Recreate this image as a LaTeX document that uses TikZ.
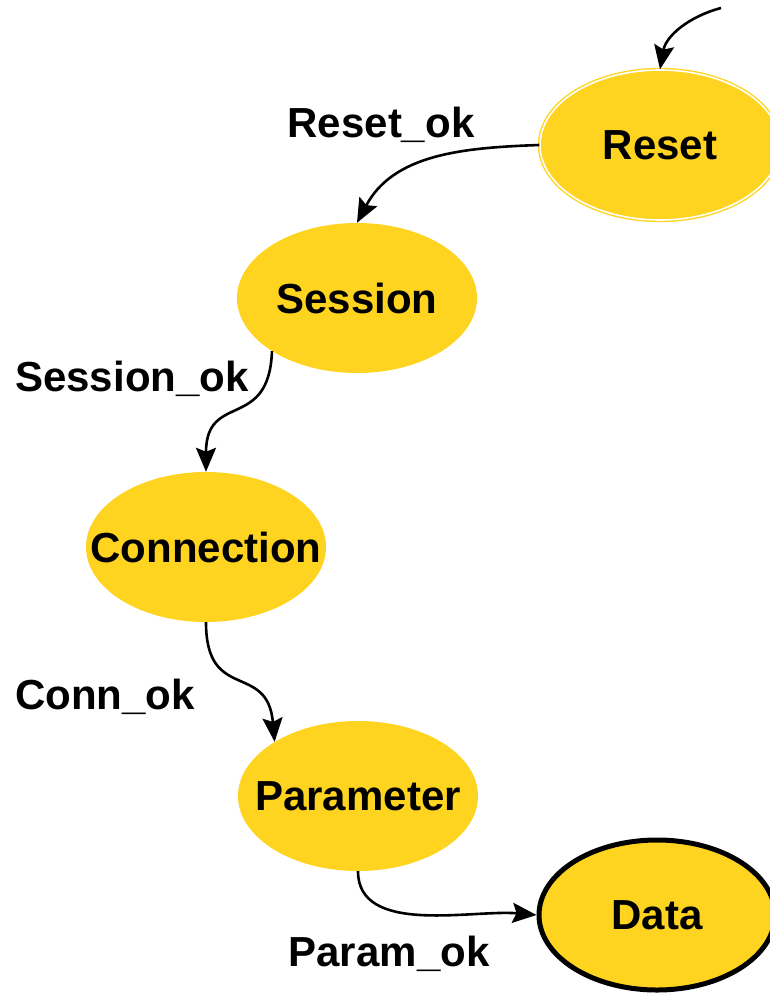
\documentclass[tikz,border=0pt]{standalone}
\usepackage{fontspec}
\setmainfont{Liberation Sans}
\usetikzlibrary{shapes.geometric,arrows.meta}
\definecolor{stategold}{RGB}{254,212,32}
\tikzset{
  state/.style={ellipse, fill=stategold, minimum width=240pt, minimum height=150pt, inner sep=0pt, font=\fontsize{42}{46}\selectfont\bfseries},
  startstate/.style={state, draw=stategold, double=white, double distance=1.6pt, line width=1.4pt},
  finalstate/.style={state, draw=black, line width=5pt, minimum width=236pt, minimum height=150pt},
  trans/.style={line width=2.6pt, -{Stealth[length=24pt,width=20pt,inset=4pt]}},
  tlabel/.style={anchor=base, inner sep=0pt, font=\fontsize{42}{46}\selectfont\bfseries}
}
\begin{document}
\begin{tikzpicture}[x=1pt,y=-1pt]
\useasboundingbox (0,0) rectangle (769,993);
\node[startstate] (reset) at (660,145) {\makebox[0pt]{Reset}};
\node[state] (session) at (357,298) {\makebox[0pt]{Session}};
\node[state] (connection) at (206,547) {\makebox[0pt]{Connection}};
\node[state] (parameter) at (358,796) {\makebox[0pt]{Parameter}};
\node[finalstate] (data) at (657,915) {\makebox[0pt]{Data}};
\coordinate (init) at (721,8);

\node[tlabel] (lreset) at (381,137) {Reset\_ok};
\node[tlabel] (lsession) at (132,391) {Session\_ok};
\node[tlabel] (lconn) at (105,709) {Conn\_ok};
\node[tlabel] (lparam) at (389,966) {Param\_ok};

\draw[trans] (init) to[out=195,in=80] (reset.north);
\draw[trans] (reset.west) to[out=182,in=62] (session.north);
\draw[trans] (session.212) to[out=-92,in=90,looseness=1.5] (connection.north);
\draw[trans] (connection.south) to[out=-90,in=95,looseness=1.5] (parameter.147);
\draw[trans] (parameter.south) to[out=-90,in=175,looseness=0.9] (data.west);
\end{tikzpicture}
\end{document}
